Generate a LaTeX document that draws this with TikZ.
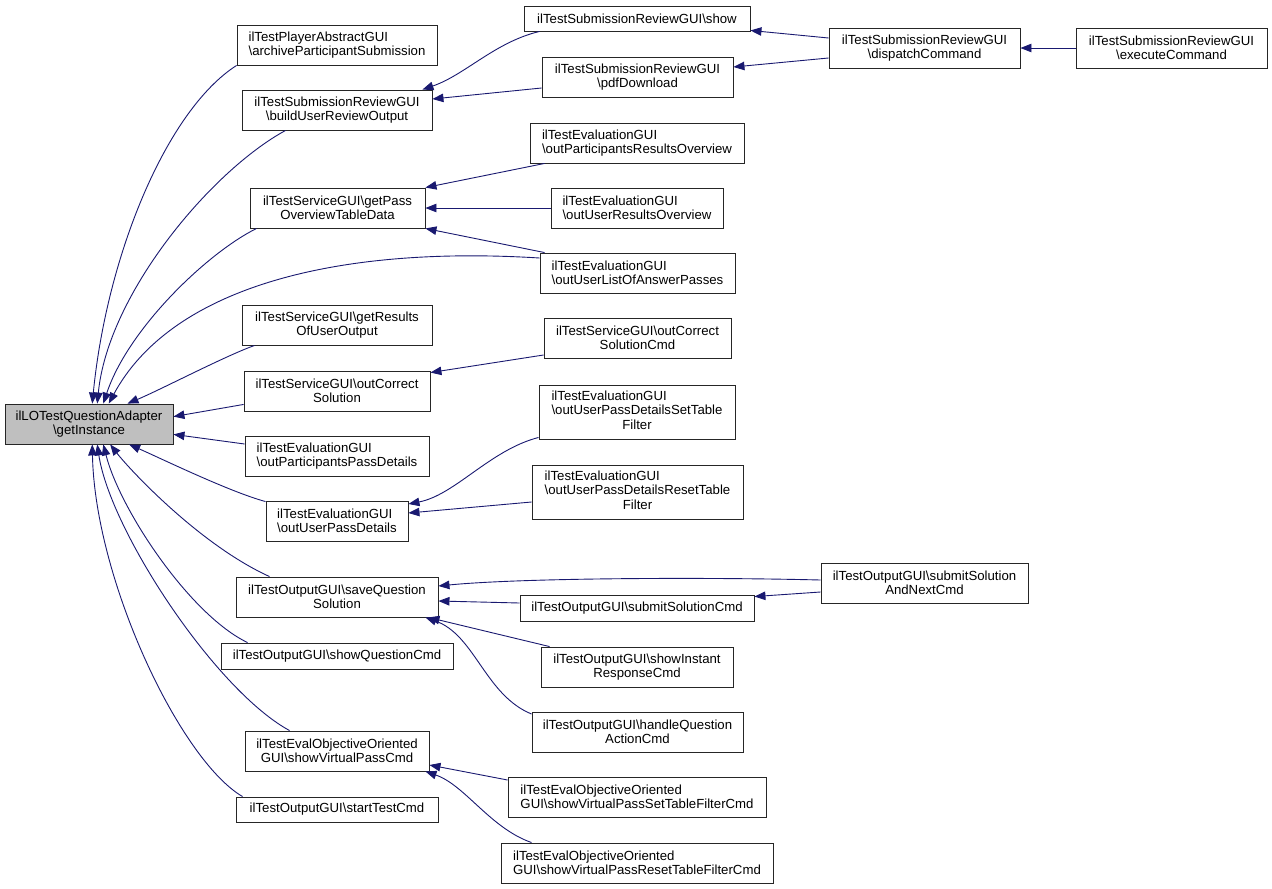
\documentclass[tikz,border=0pt]{standalone}
\usepackage{fontspec}
\setmainfont{Liberation Sans}
\usetikzlibrary{arrows.meta,calc}
\definecolor{edgeblue}{HTML}{191970}
\definecolor{mainfill}{HTML}{BFBFBF}
\newcommand\bsl{\textbackslash}
\newcommand\mybox[7][]{\node[box,#1,minimum width={#5-#3},minimum height={#6-#4}] (#2) at ({(#3+#5)/2},{(#4+#6)/2}) {#7};}
\begin{document}
\begin{tikzpicture}[x=1pt,y=-1pt,
  box/.style={draw=black!85,line width=0.9pt,inner sep=0pt,align=center,font=\fontsize{13.2}{14.5}\selectfont},
  lbox/.style={box,align=left},
  edge/.style={draw=edgeblue,line width=0.9pt,-{Triangle[length=11pt,width=8.5pt]}}]
\useasboundingbox (0,0) rectangle (1272,889);
% main
\mybox[fill=mainfill]{main}{5}{404}{173}{444}{ilLOTestQuestionAdapter\\\bsl getInstance}
% column 2
\mybox[lbox]{arch}{237}{25}{437}{65}{ilTestPlayerAbstractGUI\\\bsl archiveParticipantSubmission}
\mybox{bur}{242}{90}{432}{130}{ilTestSubmissionReviewGUI\\\bsl buildUserReviewOutput}
\mybox{gpo}{250}{188}{425}{228}{ilTestServiceGUI\bsl getPass\\OverviewTableData}
\mybox{gro}{242}{305}{432}{345}{ilTestServiceGUI\bsl getResults\\OfUserOutput}
\mybox{ocs}{244}{371}{430}{411}{ilTestServiceGUI\bsl outCorrect\\Solution}
\mybox[lbox]{oppd}{245}{436}{429}{476}{ilTestEvaluationGUI\\\bsl outParticipantsPassDetails}
\mybox[lbox]{oupd}{266}{501}{408}{541}{ilTestEvaluationGUI\\\bsl outUserPassDetails}
\mybox{sqs}{236}{577}{438}{617}{ilTestOutputGUI\bsl saveQuestion\\Solution}
\mybox{sqc}{221}{643}{453}{669}{ilTestOutputGUI\bsl showQuestionCmd}
\mybox{svp}{245}{731}{429}{771}{ilTestEvalObjectiveOriented\\GUI\bsl showVirtualPassCmd}
\mybox{stc}{236}{797}{438}{822}{ilTestOutputGUI\bsl startTestCmd}
% column 3
\mybox{show}{524}{6}{750}{31}{ilTestSubmissionReviewGUI\bsl show}
\mybox{pdf}{542}{57}{733}{97}{ilTestSubmissionReviewGUI\\\bsl pdfDownload}
\mybox[lbox]{opro}{530}{123}{744}{163}{ilTestEvaluationGUI\\\bsl outParticipantsResultsOverview}
\mybox[lbox]{ouro}{551}{188}{723}{228}{ilTestEvaluationGUI\\\bsl outUserResultsOverview}
\mybox[lbox]{oulap}{540}{253}{735}{293}{ilTestEvaluationGUI\\\bsl outUserListOfAnswerPasses}
\mybox{ocsc}{544}{318}{731}{358}{ilTestServiceGUI\bsl outCorrect\\SolutionCmd}
\mybox{oupst}{539}{385}{735}{439}{\begin{tabular}{@{}l@{}}ilTestEvaluationGUI\\\bsl outUserPassDetailsSetTable\\\multicolumn{1}{@{}c@{}}{Filter}\end{tabular}}
\mybox{ouprt}{532}{465}{743}{519}{\begin{tabular}{@{}l@{}}ilTestEvaluationGUI\\\bsl outUserPassDetailsResetTable\\\multicolumn{1}{@{}c@{}}{Filter}\end{tabular}}
\mybox{ssc}{520}{595}{754}{621}{ilTestOutputGUI\bsl submitSolutionCmd}
\mybox{sir}{541}{647}{733}{687}{ilTestOutputGUI\bsl showInstant\\ResponseCmd}
\mybox{hqa}{532}{712}{743}{752}{ilTestOutputGUI\bsl handleQuestion\\ActionCmd}
\mybox[lbox]{svps}{508}{777}{766}{817}{ilTestEvalObjectiveOriented\\GUI\bsl showVirtualPassSetTableFilterCmd}
\mybox[lbox]{svpr}{501}{843}{773}{883}{ilTestEvalObjectiveOriented\\GUI\bsl showVirtualPassResetTableFilterCmd}
% column 4/5
\mybox{disp}{829}{28}{1020}{68}{ilTestSubmissionReviewGUI\\\bsl dispatchCommand}
\mybox{exec}{1076}{28}{1267}{68}{ilTestSubmissionReviewGUI\\\bsl executeCommand}
\mybox{ssan}{821}{563}{1028}{603}{ilTestOutputGUI\bsl submitSolution\\AndNextCmd}
% edges into main
\draw[edge] (arch.south west) .. controls (167,110) and (107,254) .. (main.81);
\draw[edge] ($(bur.south west)+(44,0)$) .. controls (211,171) and (108,294) .. (main.68);
\draw[edge] ($(gpo.south west)+(7,0)$) .. controls (207,253) and (128,329) .. (main.55);
\draw[edge] ($(oulap.west)+(0,-15)$) .. controls (330,245) and (170,290) .. (main.46);
\draw[edge] ($(gro.south west)+(13,0)$) .. controls (225,356) and (160,390) .. (main.28);
\draw[edge] ($(ocs.south west)+(0,-7)$) -- (main.5);
\draw[edge] ($(oppd.west)+(0,-12)$) -- (main.-7);
\draw[edge] ($(oupd.north west)+(0,1)$) .. controls (230,492) and (160,458) .. (main.-27);
\draw[edge] ($(sqs.north west)+(34,0)$) .. controls (200,545) and (130,470) .. (main.-44);
\draw[edge] ($(sqc.north west)+(27,0)$) .. controls (190,615) and (120,510) .. (main.-55);
\draw[edge] ($(svp.north west)+(45,0)$) .. controls (215,690) and (110,530) .. (main.-68);
\draw[edge] ($(stc.north west)+(7,0)$) .. controls (180,760) and (95,580) .. (main.-81);
% other edges
\draw[edge] ($(show.south west)+(16,0)$) .. controls (495,42) and (465,75) .. ($(bur.north east)+(-10,0)$);
\draw[edge] ($(pdf.west)+(0,11)$) -- ($(bur.east)+(0,-11)$);
\draw[edge] ($(disp.west)+(0,-10)$) -- ($(show.south east)+(0,-1)$);
\draw[edge] ($(disp.west)+(0,10)$) -- ($(pdf.east)+(0,-10)$);
\draw[edge] (exec.west) -- (disp.east);
\draw[edge] ($(opro.south west)+(15,0)$) -- (gpo.north east);
\draw[edge] (ouro.west) -- (gpo.east);
\draw[edge] ($(oulap.north west)+(5,0)$) -- (gpo.south east);
\draw[edge] ($(ocsc.west)+(0,17)$) -- ($(ocs.north east)+(0,2)$);
\draw[edge] ($(oupst.south west)+(0,-2)$) .. controls (490,450) and (455,495) .. ($(oupd.east)+(0,-17)$);
\draw[edge] ($(ouprt.west)+(0,10)$) -- ($(oupd.east)+(0,-8)$);
\draw[edge] ($(ssan.west)+(0,-3)$) .. controls (700,577) and (520,578) .. ($(sqs.east)+(0,-11)$);
\draw[edge] ($(ssan.west)+(0,9)$) -- ($(ssc.north east)+(0,2)$);
\draw[edge] ($(ssc.west)+(0,-5)$) -- ($(sqs.east)+(0,4)$);
\draw[edge] ($(sir.north west)+(9,0)$) -- ($(sqs.south east)+(-10,0)$);
\draw[edge] ($(hqa.west)+(0,-18)$) .. controls (485,695) and (475,635) .. ($(sqs.south east)+(-13,0)$);
\draw[edge] ($(svps.west)+(0,-17)$) -- ($(svp.east)+(0,14)$);
\draw[edge] ($(svpr.north west)+(31,0)$) .. controls (490,828) and (465,785) .. ($(svp.south east)+(-4,0)$);
\end{tikzpicture}
\end{document}
